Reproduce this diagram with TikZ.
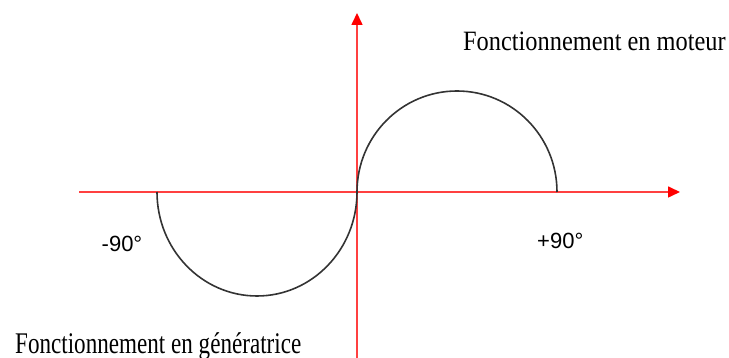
\documentclass[tikz,border=0pt]{standalone}
\usepackage{fontspec}
\newfontfamily\serifface{Liberation Serif}
\newfontfamily\sansface{Liberation Sans}
\usetikzlibrary{arrows.meta}
\tikzset{
  axis/.style={draw=red!75, line width=1.6pt, -{Triangle[length=12pt,width=11pt,fill=red,color=red]}},
  curve/.style={draw=black!80, line width=1.6pt},
  lbl/.style={inner sep=0pt, anchor=base west, text=black},
}
\begin{document}
\begin{tikzpicture}[x=1pt,y=1pt]
\useasboundingbox (0,0) rectangle (729,358);
\coordinate (O) at (357,166);
\coordinate (xl) at (79,166);
\coordinate (xr) at (680,166);
\coordinate (yb) at (357,0);
\coordinate (yt) at (357,345);
\coordinate (L) at (157,166);
\draw[axis] (xl) -- (xr);
\draw[axis] (yb) -- (yt);
\draw[curve] (O) arc[start angle=180, end angle=0, x radius=100, y radius=101];
\draw[curve] (L) arc[start angle=180, end angle=360, x radius=100, y radius=104];
\node[lbl] (mot) at (463,307) {\fontsize{28}{32}\serifface\scalebox{0.87}[1]{Fonctionnement en moteur}};
\node[lbl] (gen) at (15,4.7) {\fontsize{30}{34}\serifface\scalebox{0.77}[1]{Fonctionnement en génératrice}};
\node[lbl] (m90) at (101.5,106.3) {\fontsize{22}{26}\sansface -90°};
\node[lbl] (p90) at (537,109) {\fontsize{22}{26}\sansface +90°};
\end{tikzpicture}
\end{document}
